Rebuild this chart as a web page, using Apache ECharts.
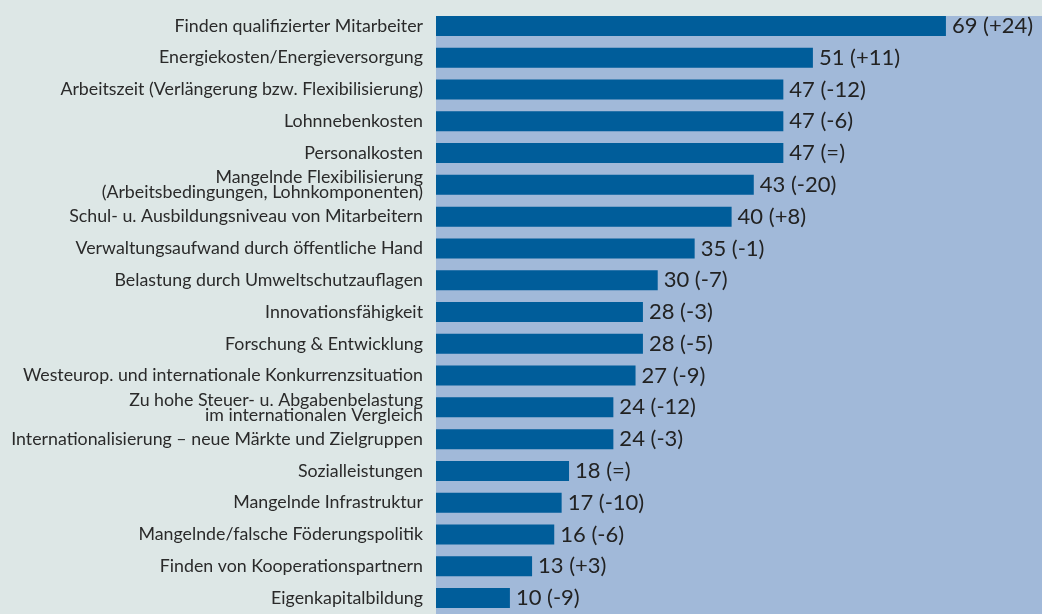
<!DOCTYPE html>
<html>
<head>
<meta charset="utf-8">
<script src="https://cdn.jsdelivr.net/npm/echarts@6/dist/echarts.min.js"></script>
<style>
  html, body { margin: 0; padding: 0; background: #dde7e6; }
  #chart { width: 1042px; height: 614px; }
</style>
</head>
<body>
<div id="chart"></div>
<script>
// Kategorien von oben nach unten
const categories = [
  'Finden qualifizierter Mitarbeiter',
  'Energiekosten/Energieversorgung',
  'Arbeitszeit (Verlängerung bzw. Flexibilisierung)',
  'Lohnnebenkosten',
  'Personalkosten',
  'Mangelnde Flexibilisierung\n(Arbeitsbedingungen, Lohnkomponenten)',
  'Schul- u. Ausbildungsniveau von Mitarbeitern',
  'Verwaltungsaufwand durch öffentliche Hand',
  'Belastung durch Umweltschutzauflagen',
  'Innovationsfähigkeit',
  'Forschung & Entwicklung',
  'Westeurop. und internationale Konkurrenzsituation',
  'Zu hohe Steuer- u. Abgabenbelastung\nim internationalen Vergleich',
  'Internationalisierung – neue Märkte und Zielgruppen',
  'Sozialleistungen',
  'Mangelnde Infrastruktur',
  'Mangelnde/falsche Föderungspolitik',
  'Finden von Kooperationspartnern',
  'Eigenkapitalbildung'
]
const values = [69, 51, 47, 47, 47, 43, 40, 35, 30, 28, 28, 27, 24, 24, 18, 17, 16, 13, 10]
const changes = ['+24', '+11', '-12', '-6', '=', '-20', '+8', '-1', '-7', '-3', '-5', '-9', '-12', '-3', '=', '-10', '-6', '+3', '-9']

const chart = echarts.init(document.getElementById('chart'))

const option = {
  backgroundColor: '#dde7e6',
  animation: false,
  graphic: [{
    type: 'rect',
    z: -10,
    silent: true,
    shape: { x: 436, y: 16, width: 606, height: 600 },
    style: { fill: '#a1b9d9' }
  }],
  grid: { left: 436, right: 0, top: 10, height: 611 },
  xAxis: {
    type: 'value',
    min: 0,
    max: 82,
    show: false
  },
  yAxis: {
    type: 'category',
    inverse: true,
    data: categories,
    axisLine: { show: false },
    axisTick: { show: false },
    axisLabel: {
      margin: 13,
      color: '#2a2a2a',
      fontFamily: 'Lato',
      fontSize: 17.8,
      lineHeight: 15,
      align: 'right'
    }
  },
  series: [{
    type: 'bar',
    data: values,
    barWidth: 20,
    itemStyle: { color: '#005d9a' },
    label: {
      show: true,
      position: 'right',
      distance: 6,
      color: '#222',
      fontFamily: 'Lato',
      fontSize: 22,
      formatter: p => p.value + ' (' + changes[p.dataIndex] + ')'
    }
  }]
}

chart.setOption(option)
</script>
</body>
</html>
